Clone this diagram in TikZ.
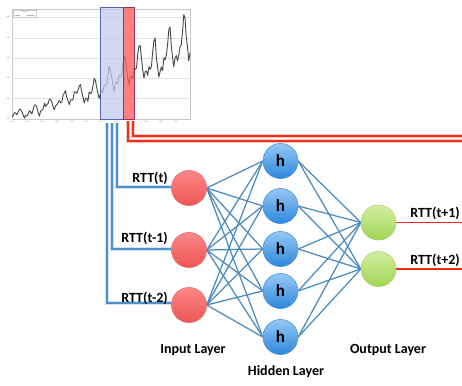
\documentclass[tikz,border=0pt]{standalone}
\usepackage{fontspec}
\setmainfont{Carlito}
\definecolor{edgeblue}{RGB}{74,140,190}
\definecolor{feedblue}{RGB}{75,145,205}
\definecolor{feedhalo}{RGB}{210,228,243}
\definecolor{redcore}{RGB}{240,45,25}
\definecolor{redhalo}{RGB}{255,205,195}
\definecolor{gridgray}{RGB}{225,225,225}
\definecolor{framegray}{RGB}{200,200,200}
\definecolor{seriesgray}{RGB}{70,70,70}
\definecolor{winblue}{RGB}{195,203,240}
\definecolor{winblueline}{RGB}{95,95,175}
\definecolor{winred}{RGB}{250,95,100}
\definecolor{winredline}{RGB}{150,50,90}
\begin{document}
\begin{tikzpicture}[x=1pt,y=-1pt,
  grid/.style={draw=gridgray,line width=0.5pt},
  frame/.style={draw=framegray,line width=0.5pt},
  series/.style={draw=seriesgray,line width=0.9pt,line join=round},
  ticklbl/.style={font=\fontsize{2}{2}\selectfont,text=gray,inner sep=0pt},
  neuron/.style={circle,minimum size=35pt,inner sep=0pt,font=\fontsize{17}{17}\selectfont\bfseries},
  inp/.style={neuron,top color={rgb,255:red,252;green,135;blue,135},bottom color={rgb,255:red,238;green,85;blue,85},draw={rgb,255:red,235;green,110;blue,110},line width=0.4pt},
  hid/.style={neuron,top color={rgb,255:red,150;green,200;blue,245},bottom color={rgb,255:red,45;green,135;blue,220},draw={rgb,255:red,80;green,150;blue,215},line width=0.4pt},
  outp/.style={neuron,top color={rgb,255:red,210;green,238;blue,160},bottom color={rgb,255:red,160;green,212;blue,85},draw={rgb,255:red,170;green,215;blue,110},line width=0.4pt},
  lbl/.style={font=\fontsize{14}{14}\selectfont\bfseries,inner sep=0pt},
  edge/.style={draw=edgeblue,line width=1.25pt},
  feedhaloline/.style={draw=feedhalo,line width=3.2pt},
  feedline/.style={draw=feedblue,line width=1.3pt},
  redhaloline/.style={draw=redhalo,line width=3.4pt},
  redline/.style={draw=redcore,line width=1.5pt},
  outline/.style={draw=redcore,line width=1.6pt}
]
\useasboundingbox (0,0) rectangle (462,385);
\fill[white] (0,0) rectangle (462,385);

% ---------- chart ----------
\foreach \g in {17,38,58,78,98} \draw[grid] (12,\g) -- (190,\g);
\draw[frame] (12,9) rectangle (190,119);
\foreach \lab [count=\k from 0] in {600,500,400,300,200,100}
  \node[ticklbl,anchor=east] at (10,{17+\k*20.4}) {\lab};
\foreach \yr [count=\k from 0] in {1949,1950,1951,1952,1953,1954,1955,1956,1957,1958,1959,1960}
  \node[ticklbl,anchor=north] at ({12.5+\k*14.83},121) {\yr};
% legend
\draw[frame,fill=white] (13,10) rectangle (36,17.5);
\node[ticklbl] at (24.5,11.6) {Legend};
\draw[gray!60,line width=0.3pt] (15,15) -- (20,15);
\draw[gray!60,line width=0.3pt] (27,15) -- (34,15);

\draw[series] (12,{119-12*0.2})
  \foreach \v [count=\i from 1] in {118,132,129,121,135,148,148,136,119,104,118,
   115,126,141,135,125,149,170,170,158,133,114,140,
   145,150,178,163,172,178,199,199,184,162,146,166,
   171,180,193,181,183,218,230,242,209,191,172,194,
   196,196,236,235,229,243,264,272,237,211,180,201,
   204,188,235,227,234,264,302,293,259,229,203,229,
   242,233,267,269,270,315,364,347,312,274,237,278,
   284,277,317,313,318,374,413,405,355,306,271,306,
   315,301,356,348,355,422,465,467,404,347,305,336,
   340,318,362,348,363,435,491,505,404,359,310,337,
   360,342,406,396,420,472,548,559,463,407,362,405,
   417,391,419,461,472,535,622,606,508,461,390,432}
  { -- ({12+\i*1.2448},{119-(\v-100)*0.2}) };

% highlighted windows
\fill[winblue,opacity=0.75] (100,7) rectangle (123,119);
\draw[winblueline,line width=0.6pt] (100,7) rectangle (123,119);
\fill[winred,opacity=0.8] (123,7) rectangle (134,119);
\draw[winredline,line width=0.6pt] (123,7) rectangle (134,119);

% ---------- network nodes ----------
\node[inp] (i1) at (189,188) {};
\node[inp] (i2) at (189,250) {};
\node[inp] (i3) at (189,305) {};
\node[hid] (h1) at (280.5,161) {h};
\node[hid] (h2) at (280.5,206) {h};
\node[hid] (h3) at (280.5,249) {h};
\node[hid] (h4) at (280.5,291) {h};
\node[hid] (h5) at (280.5,337) {h};
\node[outp] (o1) at (378.5,222.5) {};
\node[outp] (o2) at (378.5,269) {};

% ---------- feed lines from chart ----------
\coordinate (f1s) at (117,123);
\coordinate (f2s) at (112,123);
\coordinate (f3s) at (107,123);
\coordinate (f1e) at (171,187);
\coordinate (f2e) at (171,249);
\coordinate (f3e) at (171,303);
\foreach \a in {1,2,3} \draw[feedhaloline] (f\a s) |- (f\a e);
\foreach \a in {1,2,3} \draw[feedline] (f\a s) |- (f\a e);

\coordinate (r1s) at (133,121);
\coordinate (r2s) at (128,121);
\coordinate (r1e) at (462,136);
\coordinate (r2e) at (462,141);
\foreach \a in {1,2} \draw[redhaloline] (r\a s) |- (r\a e);
\foreach \a in {1,2} \draw[redline] (r\a s) |- (r\a e);

% ---------- edges ----------
\foreach \a in {1,2,3}
  \foreach \b in {1,...,5}
    \draw[edge] (i\a.east) -- (h\b.west);
\foreach \b in {1,...,5}
  \foreach \c in {1,2}
    \draw[edge] (h\b.east) -- (o\c.west);
\foreach \b in {1,...,5} \node[hid] at (h\b) {h};
\foreach \a in {1,2,3} \node[inp] at (i\a) {};
\foreach \c in {1,2} \node[outp] at (o\c) {};

% output lines
\coordinate (e1) at (462,222.5);
\coordinate (e2) at (462,269);
\draw[outline] (o1.east) -- (e1);
\draw[outline] (o2.east) -- (e2);

% ---------- labels ----------
\node[lbl,anchor=base east] (l1) at ([shift={(-3pt,5pt)}]f1e) {RTT(t)};
\node[lbl,anchor=base east] (l2) at ([shift={(-3pt,7pt)}]f2e) {RTT(t-1)};
\node[lbl,anchor=base east] (l3) at ([shift={(-3pt,1pt)}]f3e) {RTT(t-2)};
\node[lbl,anchor=base east] (l4) at (460,217) {RTT(t+1)};
\node[lbl,anchor=base east] (l5) at (460,264) {RTT(t+2)};
\node[lbl] (li) at (193,350) {Input Layer};
\node[lbl] (lh) at (286,372) {Hidden Layer};
\node[lbl] (lo) at (388,350) {Output Layer};
\end{tikzpicture}
\end{document}
